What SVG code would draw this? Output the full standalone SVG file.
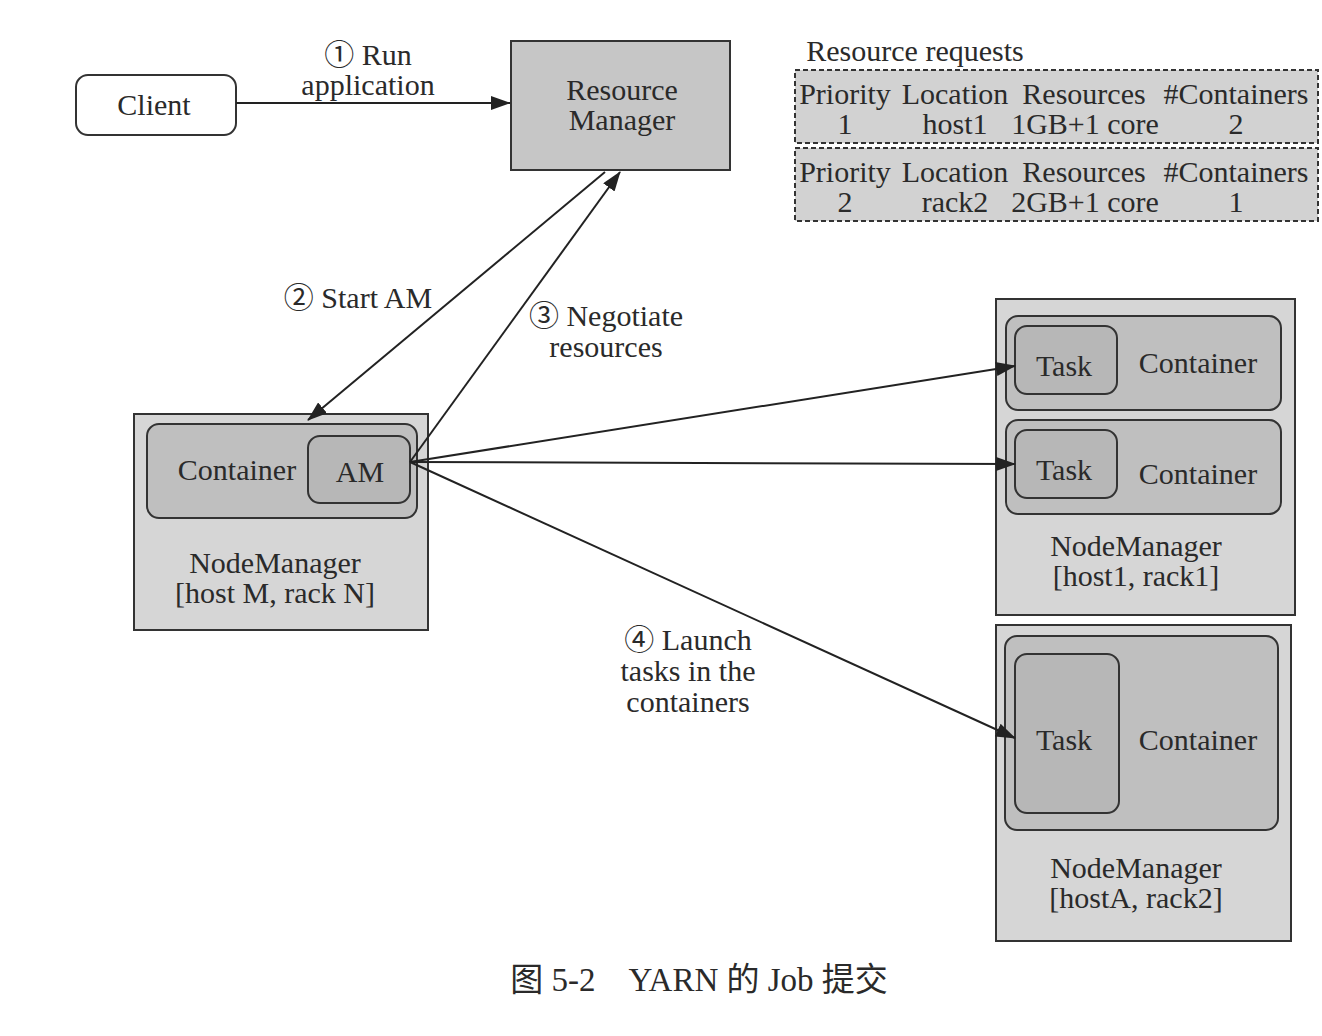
<svg xmlns="http://www.w3.org/2000/svg" width="1322" height="1036" viewBox="0 0 1322 1036">
<defs>
<marker id="ah" markerWidth="20" markerHeight="14" refX="19" refY="7" orient="auto" markerUnits="userSpaceOnUse">
<path d="M0,0 L20,7 L0,14 Z" fill="#222"/>
</marker>
<style>
text{font-family:"Liberation Serif","DejaVu Serif","Noto Sans CJK SC",serif;font-size:30px;fill:#2a2a2a;text-anchor:middle}
.box{stroke:#333;stroke-width:2}
.nm{fill:#d6d6d6}
.ct{fill:#bfbfbf}
.tk{fill:#b7b7b7}
.rq{fill:#d2d2d2;stroke:#333;stroke-width:2;stroke-dasharray:5,3}
.cn{stroke:#222;stroke-width:2;fill:none;marker-end:url(#ah)}
</style>
</defs>
<rect width="1322" height="1036" fill="#ffffff"/>

<g id="client">
<rect class="box" x="76" y="75" width="160" height="60" rx="12" fill="#ffffff"/>
<text x="154" y="115">Client</text>
</g>

<g id="resource-manager">
<rect class="box" x="511" y="41" width="219" height="129" fill="#c6c6c6"/>
<text x="622" y="100">Resource</text>
<text x="622" y="130">Manager</text>
</g>

<g id="resource-requests">
<text x="915" y="61">Resource requests</text>
<rect class="rq" x="795" y="70" width="523" height="73"/>
<rect class="rq" x="795" y="148" width="523" height="73"/>
<text x="845" y="104">Priority</text>
<text x="955" y="104">Location</text>
<text x="1084" y="104">Resources</text>
<text x="1236" y="104">#Containers</text>
<text x="845" y="134">1</text>
<text x="955" y="134">host1</text>
<text x="1085" y="134">1GB+1 core</text>
<text x="1236" y="134">2</text>
<text x="845" y="182">Priority</text>
<text x="955" y="182">Location</text>
<text x="1084" y="182">Resources</text>
<text x="1236" y="182">#Containers</text>
<text x="845" y="212">2</text>
<text x="955" y="212">rack2</text>
<text x="1085" y="212">2GB+1 core</text>
<text x="1236" y="212">1</text>
</g>

<g id="nodemanager-m">
<rect class="box nm" x="134" y="414" width="294" height="216"/>
<rect class="box ct" x="147" y="424" width="270" height="94" rx="12"/>
<rect class="box tk" x="308" y="436" width="102" height="67" rx="12"/>
<text x="237" y="480">Container</text>
<text x="360" y="482">AM</text>
<text x="275" y="573">NodeManager</text>
<text x="275" y="603">[host M, rack N]</text>
</g>

<g id="nodemanager-1">
<rect class="box nm" x="996" y="299" width="299" height="316"/>
<rect class="box ct" x="1006" y="316" width="275" height="94" rx="12"/>
<rect class="box tk" x="1015" y="326" width="102" height="68" rx="12"/>
<text x="1064" y="376">Task</text>
<text x="1198" y="373">Container</text>
<rect class="box ct" x="1006" y="420" width="275" height="94" rx="12"/>
<rect class="box tk" x="1015" y="430" width="102" height="68" rx="12"/>
<text x="1064" y="480">Task</text>
<text x="1198" y="484">Container</text>
<text x="1136" y="556">NodeManager</text>
<text x="1136" y="586">[host1, rack1]</text>
</g>

<g id="nodemanager-2">
<rect class="box nm" x="996" y="625" width="295" height="316"/>
<rect class="box ct" x="1005" y="636" width="273" height="194" rx="12"/>
<rect class="box tk" x="1015" y="654" width="104" height="159" rx="12"/>
<text x="1064" y="750">Task</text>
<text x="1198" y="750">Container</text>
<text x="1136" y="878">NodeManager</text>
<text x="1136" y="908">[hostA, rack2]</text>
</g>

<g id="connectors">
<line class="cn" x1="236" y1="103" x2="510" y2="103"/>
<line class="cn" x1="605" y1="172" x2="308" y2="420"/>
<line class="cn" x1="410" y1="462" x2="620" y2="172"/>
<line class="cn" x1="410" y1="462" x2="1015" y2="366"/>
<line class="cn" x1="410" y1="462" x2="1015" y2="464"/>
<line class="cn" x1="410" y1="462" x2="1015" y2="738"/>
</g>

<g id="labels">
<text x="368" y="65">① Run</text>
<text x="368" y="95">application</text>
<text x="358" y="308">② Start AM</text>
<text x="606" y="326">③ Negotiate</text>
<text x="606" y="357">resources</text>
<text x="688" y="650">④ Launch</text>
<text x="688" y="681">tasks in the</text>
<text x="688" y="712">containers</text>
</g>

<text x="699" y="991" style="font-family:'Liberation Serif','Noto Sans CJK SC',serif;font-size:33px">图 5-2　YARN 的 Job 提交</text>
</svg>
